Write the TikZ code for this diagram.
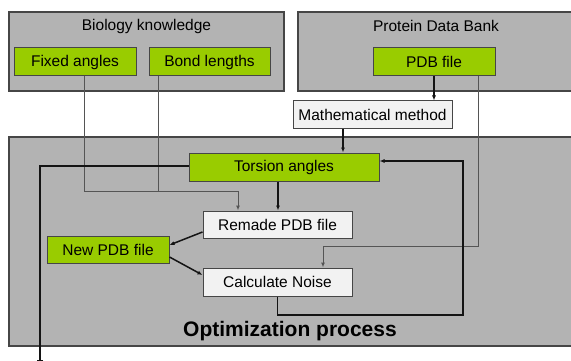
\documentclass[tikz,border=0pt]{standalone}
\usepackage{fontspec}
\setmainfont{Liberation Sans}
\usepackage{xcolor}
\usetikzlibrary{arrows.meta,positioning}
\definecolor{ink}{RGB}{20,20,20}
\definecolor{edgegray}{RGB}{70,70,70}
\definecolor{panelfill}{RGB}{179,179,179}
\definecolor{greenfill}{RGB}{153,204,0}
\definecolor{lightfill}{RGB}{242,242,242}
\definecolor{feedgray}{RGB}{85,85,85}
\tikzset{
  flow/.style={-{Latex[length=5pt,width=4pt]},line width=1.5pt,draw=ink},
  feed/.style={line width=1pt,draw=feedgray},
  panel/.style={draw=edgegray,line width=1.2pt,fill=panelfill,inner sep=0pt},
  item/.style={draw=edgegray,line width=1pt,fill=greenfill,inner sep=0pt,minimum height=28pt,font=\fontsize{15.5}{18}\selectfont},
  tool/.style={draw=edgegray,line width=1pt,fill=lightfill,inner sep=0pt,minimum height=28pt,font=\fontsize{15.5}{18}\selectfont},
  heading/.style={inner sep=0pt,font=\fontsize{15.5}{18}\selectfont}
}
\begin{document}
\begin{tikzpicture}[x=1pt,y=-1pt]
  \clip (0,0) rectangle (571,361);
  \fill[white] (0,0) rectangle (571,361);
  % source panels
  \node[panel,minimum width=275pt,minimum height=79pt] (biology) at (146.5,51.5) {};
  \node[heading] (biotitle) at (146.5,26) {Biology knowledge};
  \node[panel,minimum width=282pt,minimum height=79pt] (bank) at (439,51.5) {};
  \node[heading] (banktitle) at (436,26) {Protein Data Bank};
  \node[item,minimum width=122pt] (fixed) at (75,62) {Fixed angles};
  \node[item,minimum width=121pt] (bond) at (209.5,62) {Bond lengths};
  \node[item,minimum width=122pt] (pdbfile) at (434,62) {PDB file};
  \node[tool,minimum width=159pt] (mathm) at (372.5,115) {Mathematical method};
  % optimization panel
  \node[panel,minimum width=571pt,minimum height=209pt] (optim) at (294.5,241.5) {};
  \node[inner sep=0pt,font=\fontsize{21}{24}\selectfont\bfseries] (optitle) at (290,331) {Optimization process};
  \node[item,minimum width=190pt] (torsion) at (284,167) {Torsion angles};
  \node[tool,minimum width=149pt,minimum height=27pt] (remade) at (277.5,224.5) {Remade PDB file};
  \node[item,minimum width=122pt,minimum height=27pt] (newpdb) at (108,249.5) {New PDB file};
  \node[tool,minimum width=149pt] (noise) at (277.5,282) {Calculate Noise};
  \coordinate (merge) at (238,191);
  \coordinate (bend) at (323,246);
  \coordinate (loop) at (463,315);
  \coordinate (out) at (40,361);
  % connectors
  \draw[feed,-{Latex[length=5pt,width=4pt]}] ([xshift=9pt]fixed.south) |- (merge) -- (merge |- remade.north);
  \draw[feed] ([xshift=-51.5pt]bond.south) -- ([xshift=-51.5pt]bond.south |- merge);
  \draw[feed,-{Latex[length=5pt,width=4pt]}] ([xshift=44pt]pdbfile.south) |- (bend) -- (bend |- noise.north);
  \draw[flow] (pdbfile.south) -- (pdbfile.south |- mathm.north);
  \draw[flow] ([xshift=-29.5pt]mathm.south) -- ([xshift=-29.5pt]mathm.south |- torsion.north);
  \draw[flow] ([xshift=-6pt]torsion.south) -- ([xshift=-6pt]torsion.south |- remade.north);
  \draw[flow] ([yshift=-7.5pt]remade.west) -- ([yshift=4.5pt]newpdb.east);
  \draw[flow] ([yshift=-7.5pt]newpdb.east) -- ([yshift=7pt]noise.west);
  \draw[flow] (noise.south) |- (loop) |- ([yshift=6pt]torsion.east);
  \draw[flow,-{Bar[width=6pt]}] ([yshift=1pt]torsion.west) -| (out);
\end{tikzpicture}
\end{document}
